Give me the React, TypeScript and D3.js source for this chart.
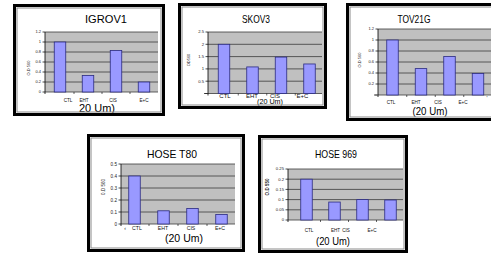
import React from "react";
import * as d3 from "d3";

const categories = ["CTL", "EHT", "CIS", "E+C"];

const igrovValues = [1.0, 0.33, 0.83, 0.2];
const skovValues = [2.0, 1.08, 1.48, 1.2];
const tovValues = [1.0, 0.48, 0.7, 0.39];
const t80Values = [0.4, 0.11, 0.13, 0.08];
const h969Values = [0.2, 0.088, 0.1, 0.098];

const igrovTicks = [0, 0.2, 0.4, 0.6, 0.8, 1, 1.2];
const skovTicks = [0, 0.5, 1, 1.5, 2, 2.5];
const tovTicks = [0, 0.2, 0.4, 0.6, 0.8, 1, 1.2];
const t80Ticks = [0, 0.1, 0.2, 0.3, 0.4, 0.5];
const h969Ticks = [0, 0.05, 0.1, 0.15, 0.2, 0.25];

const titles = ["IGROV1", "SKOV3", "TOV21G", "HOSE T80", "HOSE 969"];
const yLabels = ["O.D 560", "OD560", "O.D 560", "0.D 560", "O.D 550"];
const subLabels = ["20 Um)", "(20 Um)", "(20 Um)", "(20 Um)", "(20 Um)"];

const FONT = "'Liberation Sans', Arial, sans-serif";

type Layout = {
  frame: [number, number, number, number];
  axisX: number;
  band: [number, number];
  plotRight: number;
  y0: number;
  yTop: number;
  tickFont: number;
  yLab: [number, number, number];
  title: [number, number, number, number];
  catY: number;
  catFont: number;
  catDx: number[];
  sub: [number, number, number, number];
  showZero: boolean;
  boldY?: boolean;
};

const layouts: Layout[] = [
  {
    frame: [13, 4, 152, 112],
    axisX: 45,
    band: [46, 158],
    plotRight: 158,
    y0: 92,
    yTop: 32,
    tickFont: 4,
    yLab: [29, 68, 4],
    title: [106, 23, 11, 42],
    catY: 101.5,
    catFont: 4.6,
    catDx: [8, -4, -3, 0],
    sub: [97, 111.5, 11, 36],
    showZero: true,
  },
  {
    frame: [178, 3, 149, 106],
    axisX: 208,
    band: [209.75, 323.75],
    plotRight: 324,
    y0: 93.5,
    yTop: 32,
    tickFont: 4.2,
    yLab: [189, 60, 4],
    title: [256, 23, 10.5, 28],
    catY: 97.5,
    catFont: 6,
    catDx: [1, -0.5, -6, -7],
    sub: [270, 104, 8, 26],
    showZero: false,
  },
  {
    frame: [346, 3, 152, 118],
    axisX: 378,
    band: [378.25, 492.25],
    plotRight: 492,
    y0: 95,
    yTop: 29,
    tickFont: 4,
    yLab: [360, 60, 4],
    title: [414, 23, 10.5, 33],
    catY: 104,
    catFont: 4.6,
    catDx: [-1.5, -5, -11.5, -15],
    sub: [430, 115, 10, 35],
    showZero: false,
  },
  {
    frame: [87, 134, 158, 118],
    axisX: 121,
    band: [120, 236],
    plotRight: 235,
    y0: 224,
    yTop: 164,
    tickFont: 4.6,
    yLab: [103, 187, 4.5],
    title: [172, 158, 11, 50],
    catY: 230,
    catFont: 5.2,
    catDx: [2.5, -0.5, -1.5, -1.5],
    sub: [184, 242, 10.5, 38],
    showZero: true,
  },
  {
    frame: [258, 135, 150, 118],
    axisX: 288,
    band: [292.5, 404.5],
    plotRight: 404,
    y0: 220,
    yTop: 169,
    tickFont: 4.2,
    yLab: [267, 187, 4.5],
    title: [336, 158, 10.5, 42],
    catY: 231.5,
    catFont: 4.6,
    catDx: [2.5, 1, -16.5, -18.5],
    sub: [333, 244.5, 10, 34],
    showZero: true,
    boldY: true,
  },
];

const panelValues = [igrovValues, skovValues, tovValues, t80Values, h969Values];
const panelTicks = [igrovTicks, skovTicks, tovTicks, t80Ticks, h969Ticks];

const fmt = (t: number) => String(+t.toFixed(2));

function Panel({ i }: { i: number }) {
  const L = layouts[i];
  const values = panelValues[i];
  const ticks = panelTicks[i];
  const max = ticks[ticks.length - 1];
  const [fx, fy, fw, fh] = L.frame;
  const x = d3.scaleBand<string>().domain(categories).range(L.band);
  const y = d3.scaleLinear().domain([0, max]).range([L.y0, L.yTop]);
  const barW = 11.5;
  const clipId = `clip${i}`;
  return (
    <g>
      <defs>
        <clipPath id={clipId}>
          <rect x={fx + 5} y={fy + 5} width={fw - 10} height={fh - 10} />
        </clipPath>
      </defs>
      <rect x={fx} y={fy} width={fw} height={fh} fill="#ffffff" />
      <g clipPath={`url(#${clipId})`}>
        <rect
          x={L.axisX}
          y={y(max)}
          width={L.plotRight - L.axisX}
          height={y(0) - y(max)}
          fill="#c0c0c0"
        />
        {ticks.map((t) => (
          <line
            key={t}
            x1={L.axisX}
            x2={L.plotRight}
            y1={y(t)}
            y2={y(t)}
            stroke="#3a3a3a"
            strokeWidth={0.8}
          />
        ))}
        {values.map((v, k) => {
          const cx = (x(categories[k]) as number) + x.bandwidth() / 2;
          return (
            <rect
              key={k}
              x={cx - barW / 2}
              y={y(v)}
              width={barW}
              height={y(0) - y(v)}
              fill="#9999ff"
              stroke="#2a2a80"
              strokeWidth={0.8}
            />
          );
        })}
        <line x1={L.axisX} x2={L.axisX} y1={y(max)} y2={y(0) + 2} stroke="#000" strokeWidth={0.8} />
        {ticks.map((t) => (
          <line key={"tk" + t} x1={L.axisX - 2.5} x2={L.axisX} y1={y(t)} y2={y(t)} stroke="#000" strokeWidth={0.7} />
        ))}
        {categories.slice(1).map((c) => (
          <line
            key={"ct" + c}
            x1={x(c) as number}
            x2={x(c) as number}
            y1={y(0)}
            y2={y(0) + 2}
            stroke="#000"
            strokeWidth={0.6}
          />
        ))}
      </g>
      {ticks
        .filter((t) => L.showZero || t !== 0)
        .map((t) => (
          <text
            key={"tl" + t}
            x={L.axisX - 4}
            y={y(t)}
            dy="0.35em"
            textAnchor="end"
            fontSize={L.tickFont}
            fontFamily={FONT}
            fill="#222"
          >
            {fmt(t)}
          </text>
        ))}
      {!L.showZero && (
        <line x1={L.axisX - 4} x2={L.axisX - 1.5} y1={y(0)} y2={y(0)} stroke="#000" strokeWidth={0.7} />
      )}
      <text
        transform={`translate(${L.yLab[0]},${L.yLab[1]}) rotate(-90)`}
        textAnchor="middle"
        dy="0.35em"
        fontSize={L.yLab[2]}
        fontWeight={L.boldY ? "bold" : "normal"}
        fontFamily={FONT}
        fill="#222"
      >
        {yLabels[i]}
      </text>
      <text
        x={L.title[0]}
        y={L.title[1]}
        textAnchor="middle"
        fontSize={L.title[2]}
        textLength={L.title[3]}
        lengthAdjust="spacingAndGlyphs"
        fontFamily={FONT}
        fill="#000"
      >
        {titles[i]}
      </text>
      {categories.map((c, k) => (
        <text
          key={"cl" + c}
          x={(x(c) as number) + x.bandwidth() / 2 + L.catDx[k]}
          y={L.catY}
          textAnchor="middle"
          fontSize={L.catFont}
          fontFamily={FONT}
          fill="#111"
        >
          {c}
        </text>
      ))}
      <text
        x={L.sub[0]}
        y={L.sub[1]}
        textAnchor="middle"
        fontSize={L.sub[2]}
        textLength={L.sub[3]}
        lengthAdjust="spacingAndGlyphs"
        fontFamily={FONT}
        fill="#000"
      >
        {subLabels[i]}
      </text>
      {i === 3 && (
        <text x={125} y={L.catY} textAnchor="middle" fontSize={5} fontFamily={FONT} fill="#111">
          ‹
        </text>
      )}
      {i === 2 && (
        <text x={487} y={100} textAnchor="middle" fontSize={5} fontFamily={FONT} fill="#111">
          '
        </text>
      )}
      <rect x={fx + 4} y={fy + 4} width={fw - 8} height={fh - 8} fill="none" stroke="#8a8a8a" strokeWidth={1} />
      <rect x={fx + 1.5} y={fy + 1.5} width={fw - 3} height={fh - 3} fill="none" stroke="#000" strokeWidth={3} />
    </g>
  );
}

export default function App() {
  return (
    <svg
      width={491}
      height={254}
      viewBox="0 0 491 254"
      style={{ position: "absolute", left: 0, top: 0, background: "#fff" }}
    >
      <rect x={0} y={0} width={491} height={254} fill="#fff" />
      {titles.map((_, i) => (
        <Panel key={i} i={i} />
      ))}
    </svg>
  );
}
